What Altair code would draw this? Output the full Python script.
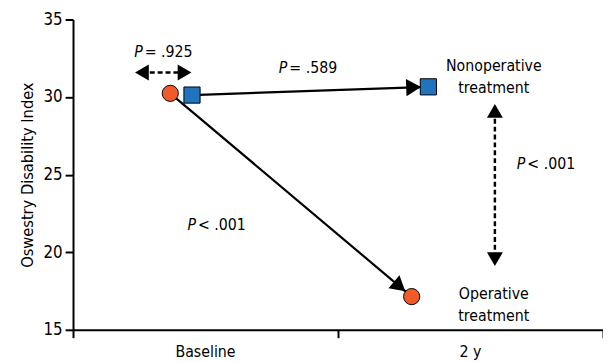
import math
import altair as alt
import pandas as pd

W, H = 538, 315
FONT = "'DejaVu Sans Condensed', 'Liberation Sans', sans-serif"

# ---- data ----
time_labels = ["Baseline", "2 y"]
time_centers = [0.5, 1.5]
groups = ["Operative", "Nonoperative"]
op_x = [0.367, 1.278]
op_y = [30.24, 17.14]
non_x = [0.449, 1.341]
non_y = [30.13, 30.66]

# annotations (data coords)
p_text = ["= .925", "= .589", "< .001", "< .001"]
p_x = [0.263, 0.809, 0.464, 1.707]
p_y = [32.89, 31.87, 21.77, 25.71]

group_label_text = ["Nonoperative\ntreatment", "Operative\ntreatment"]
group_label_x = [1.588, 1.588]
group_label_y = [32.0, 17.30]

h_arrow_y = 31.58
h_arrow_x = [0.260, 0.421]
v_arrow_x = 1.592
v_arrow_y = [29.11, 19.55]

sx = W / 2.0
sy = H / 20.0


def head(x0, y0, x1, y1, back):
    dx = (x1 - x0) * sx
    dy = -(y1 - y0) * sy
    L = math.hypot(dx, dy)
    ux, uy = dx / L, dy / L
    hx = x1 - back * ux / sx
    hy = y1 + back * uy / sy
    ang = math.degrees(math.atan2(dy, dx)) % 360
    return hx, hy, ang


lines = pd.DataFrame({
    "x": op_x + non_x,
    "y": op_y + non_y,
    "g": [groups[0]] * 2 + [groups[1]] * 2,
})

hx1, hy1, a1 = head(op_x[0], op_y[0], op_x[1], op_y[1], 16)
hx2, hy2, a2 = head(non_x[0], non_y[0], non_x[1], non_y[1], 15)
heads = pd.DataFrame({"x": [hx1, hx2], "y": [hy1, hy2], "a": [a1, a2]})

xs = alt.Scale(domain=[0, 2], nice=False, zero=False)
ys = alt.Scale(domain=[15, 35], nice=False, zero=False)

base_x = alt.X("x:Q", scale=xs,
               axis=alt.Axis(values=[0, 1, 2], labels=False, title=None, grid=False,
                             tickSize=8, tickWidth=2, domainWidth=2,
                             domainColor="black", tickColor="black"))
base_y = alt.Y("y:Q", scale=ys,
               axis=alt.Axis(values=[15, 20, 25, 30, 35], title="Oswestry Disability Index",
                             grid=False, tickSize=8, tickWidth=2, domainWidth=2,
                             domainColor="black", tickColor="black",
                             labelFont=FONT, labelFontSize=17, labelColor="black",
                             labelPadding=3, titleFont=FONT, titleFontSize=16.5,
                             titleFontWeight="normal", titleColor="black", titlePadding=8))

line_layer = alt.Chart(lines).mark_line(color="black", strokeWidth=2.2).encode(
    x=base_x, y=base_y, detail="g:N")

head_layer = alt.Chart(heads).mark_point(shape="triangle-right", filled=True, color="black",
                                         size=300, opacity=1).encode(
    x=alt.X("x:Q", scale=xs), y=alt.Y("y:Q", scale=ys), angle=alt.Angle("a:Q", scale=None))

# dashed arrows
hdash = pd.DataFrame({"x": [h_arrow_x[0]], "x2": [h_arrow_x[1]], "y": [h_arrow_y]})
hdash_layer = alt.Chart(hdash).mark_rule(color="black", strokeWidth=2.5, strokeDash=[5, 3]).encode(
    x=alt.X("x:Q", scale=xs), x2="x2:Q", y=alt.Y("y:Q", scale=ys))
vdash = pd.DataFrame({"x": [v_arrow_x], "y": [v_arrow_y[0]], "y2": [v_arrow_y[1]]})
vdash_layer = alt.Chart(vdash).mark_rule(color="black", strokeWidth=2.5, strokeDash=[5, 3]).encode(
    x=alt.X("x:Q", scale=xs), y=alt.Y("y:Q", scale=ys), y2="y2:Q")

dheads = pd.DataFrame({
    "x": [h_arrow_x[0], h_arrow_x[1], v_arrow_x, v_arrow_x],
    "y": [h_arrow_y, h_arrow_y, v_arrow_y[0], v_arrow_y[1]],
    "s": ["triangle-left", "triangle-right", "triangle-up", "triangle-down"],
})
dhead_layer = alt.Chart(dheads).mark_point(filled=True, color="black", size=260, opacity=1).encode(
    x=alt.X("x:Q", scale=xs), y=alt.Y("y:Q", scale=ys),
    shape=alt.Shape("s:N", scale=None, legend=None))

markers = alt.Chart(lines).mark_point(filled=True, size=270, stroke="black", strokeWidth=1,
                                      opacity=1).encode(
    x=alt.X("x:Q", scale=xs), y=alt.Y("y:Q", scale=ys),
    shape=alt.Shape("g:N", scale=alt.Scale(domain=groups, range=["circle", "square"]), legend=None),
    fill=alt.Fill("g:N", scale=alt.Scale(domain=groups, range=["#F15A29", "#1F74BD"]), legend=None),
)

pdf = pd.DataFrame({"x": p_x, "y": p_y, "t": p_text})
p_italic = alt.Chart(pdf).mark_text(text="P", font=FONT, fontSize=16, fontStyle="italic",
                                    align="right", baseline="middle", color="black").encode(
    x=alt.X("x:Q", scale=xs), y=alt.Y("y:Q", scale=ys))
p_rest = alt.Chart(pdf).mark_text(font=FONT, fontSize=16, align="left", baseline="middle",
                                  color="black", dx=2).encode(
    x=alt.X("x:Q", scale=xs), y=alt.Y("y:Q", scale=ys), text="t:N")

gl = pd.DataFrame({"x": group_label_x, "y": group_label_y, "t": group_label_text})
gl_layer = alt.Chart(gl).mark_text(font=FONT, fontSize=16, align="center", baseline="middle",
                                   lineBreak="\n", lineHeight=22, color="black").encode(
    x=alt.X("x:Q", scale=xs), y=alt.Y("y:Q", scale=ys), text="t:N")

tl = pd.DataFrame({"x": time_centers, "t": time_labels})
tl_layer = alt.Chart(tl).mark_text(font=FONT, fontSize=16, align="center", baseline="middle",
                                   color="black").encode(
    x=alt.X("x:Q", scale=xs), y=alt.value(H + 23), text="t:N")

chart = alt.layer(
    line_layer, hdash_layer, vdash_layer, head_layer, dhead_layer, markers,
    p_italic, p_rest, gl_layer, tl_layer,
).properties(
    width=W, height=H,
    padding={"left": 66, "top": 9, "right": 0, "bottom": 30},
    autosize=alt.AutoSizeParams(type="none"),
).configure_view(stroke=None)

chart.save("out.html", embed_options={"renderer": "svg", "actions": False})
